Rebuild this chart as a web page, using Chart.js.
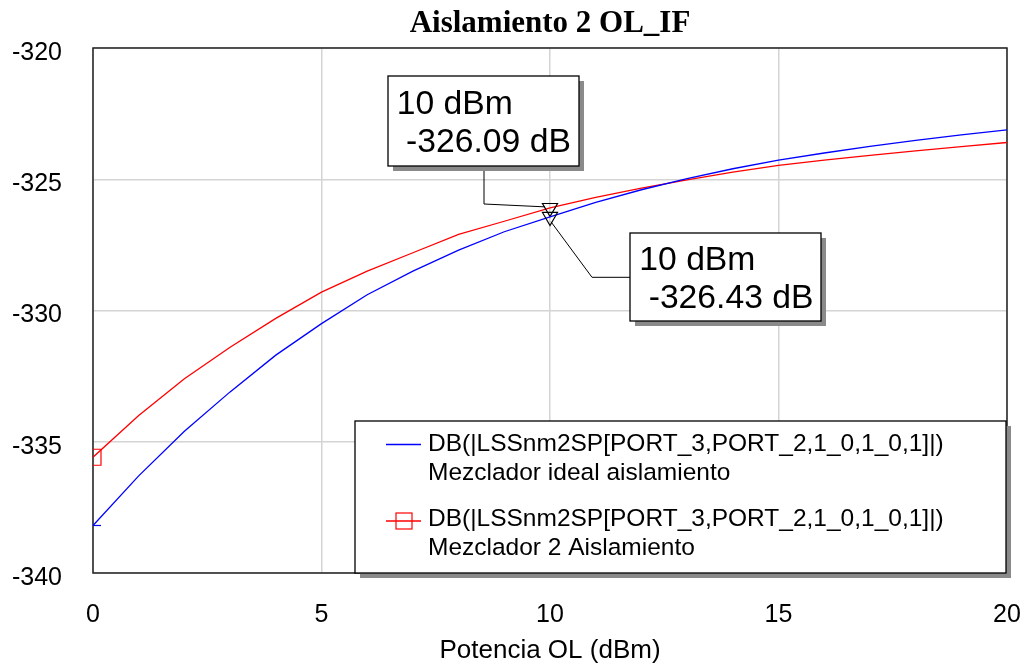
<!DOCTYPE html>
<html>
<head>
<meta charset="utf-8">
<title>Aislamiento 2 OL_IF</title>
<script src="https://cdn.jsdelivr.net/npm/chart.js@4.4.1/dist/chart.umd.min.js"></script>
<style>
    html, body { margin: 0; padding: 0; background: #fff; }
    #isoChart { display: block; }
</style>
</head>
<body>
<canvas id="isoChart" width="1026" height="666"></canvas>
<script>
// OL power sweep (dBm)
const powerOL = [0, 1, 2, 3, 4, 5, 6, 7, 8, 9, 10, 11, 12, 13, 14, 15, 16, 17, 18, 19, 20];
// DB(|LSSnm2SP[PORT_3,PORT_2,1_0,1_0,1]|) for the ideal mixer
const idealIso = [-338.19, -336.3, -334.6, -333.1, -331.7, -330.5, -329.4, -328.5, -327.7, -327.0, -326.43,
    -325.88, -325.40, -324.98, -324.60, -324.27, -324.0, -323.75, -323.52, -323.31, -323.12];
// same measurement for mixer 2
const mixer2Iso = [-335.59, -334.0, -332.6, -331.4, -330.3, -329.3, -328.5, -327.8, -327.1, -326.6, -326.09,
    -325.69, -325.34, -325.02, -324.73, -324.47, -324.27, -324.09, -323.92, -323.76, -323.6];

const xTicks = [0, 5, 10, 15, 20];
const yTicks = [-340, -335, -330, -325, -320];
const seriesNames = [
    ['DB(|LSSnm2SP[PORT_3,PORT_2,1_0,1_0,1]|)', 'Mezclador ideal aislamiento'],
    ['DB(|LSSnm2SP[PORT_3,PORT_2,1_0,1_0,1]|)', 'Mezclador 2 Aislamiento']
];
const markerIndex = 10;

const SANS = '"Liberation Sans", Arial, sans-serif';
const SERIF = '"Liberation Serif", "Times New Roman", serif';

function toPoints(ys) {
    return powerOL.map((x, i) => ({ x: x, y: ys[i] }));
}

// start marker on index 0, inverted triangle marker at the readout point
function pointOpts(startStyle, startRadius, color) {
    return {
        pointStyle: c => c.dataIndex === markerIndex ? 'triangle' : startStyle,
        pointRadius: c => c.dataIndex === markerIndex ? 8.7 : (c.dataIndex === 0 ? startRadius : 0),
        pointRotation: c => c.dataIndex === markerIndex ? 180 : 0,
        pointBorderColor: c => c.dataIndex === markerIndex ? '#000' : color,
        pointBackgroundColor: 'rgba(0,0,0,0)',
        pointBorderWidth: 1.2
    };
}

function box(ctx, x, y, w, h) {
    ctx.fillStyle = '#8a8a8a';
    ctx.fillRect(x + 5, y + 5, w, h);
    ctx.fillStyle = '#fff';
    ctx.fillRect(x, y, w, h);
    ctx.strokeStyle = '#000';
    ctx.lineWidth = 1.3;
    ctx.strokeRect(x, y, w, h);
}

function polyline(ctx, pts) {
    ctx.beginPath();
    ctx.moveTo(pts[0][0], pts[0][1]);
    for (let i = 1; i < pts.length; i++) ctx.lineTo(pts[i][0], pts[i][1]);
    ctx.stroke();
}

const decorations = {
    id: 'decorations',
    beforeDatasetsDraw(chart) {
        const ctx = chart.ctx;
        const a = chart.chartArea;
        ctx.save();
        ctx.strokeStyle = '#222';
        ctx.lineWidth = 1.5;
        ctx.strokeRect(a.left, a.top, a.right - a.left, a.bottom - a.top);
        ctx.restore();
    },
    afterDraw(chart) {
        const ctx = chart.ctx;
        const a = chart.chartArea;
        const xs = chart.scales.x, ys = chart.scales.y;
        ctx.save();

        // title
        ctx.fillStyle = '#000';
        ctx.font = 'bold 31px ' + SERIF;
        ctx.textAlign = 'center';
        ctx.textBaseline = 'alphabetic';
        ctx.fillText('Aislamiento 2 OL_IF', (a.left + a.right) / 2, 32);

        // marker readouts
        const mx = xs.getPixelForValue(powerOL[markerIndex]);
        const redY = ys.getPixelForValue(mixer2Iso[markerIndex]);
        const blueY = ys.getPixelForValue(idealIso[markerIndex]);

        ctx.strokeStyle = '#000';
        ctx.lineWidth = 1;
        polyline(ctx, [[484, 166], [484, 204], [mx - 5, redY - 1]]);
        polyline(ctx, [[mx + 1, blueY + 5], [592, 277.3], [630, 277.3]]);

        ctx.textAlign = 'left';
        ctx.font = '33.7px ' + SANS;
        box(ctx, 388, 76, 191, 90);
        ctx.fillStyle = '#000';
        ctx.fillText(powerOL[markerIndex] + ' dBm', 396.7, 114);
        ctx.fillText(' ' + mixer2Iso[markerIndex].toFixed(2) + ' dB', 396.7, 151.7);

        box(ctx, 630, 233, 191, 88);
        ctx.fillStyle = '#000';
        ctx.fillText(powerOL[markerIndex] + ' dBm', 639.3, 270);
        ctx.fillText(' ' + idealIso[markerIndex].toFixed(2) + ' dB', 639.3, 308.3);

        // legend
        box(ctx, 355, 421, 651, 152);
        const ds = chart.data.datasets;
        ctx.lineWidth = 1.4;
        ctx.strokeStyle = ds[0].borderColor;
        polyline(ctx, [[386, 444.5], [421, 444.5]]);
        ctx.strokeStyle = ds[1].borderColor;
        polyline(ctx, [[386, 521], [421, 521]]);
        ctx.lineWidth = 1.2;
        ctx.strokeRect(396, 513, 16, 16);

        ctx.fillStyle = '#000';
        ctx.font = '24.5px ' + SANS;
        ctx.fillText(seriesNames[0][0], 428, 451);
        ctx.fillText(seriesNames[0][1], 428, 480);
        ctx.fillText(seriesNames[1][0], 428, 526);
        ctx.fillText(seriesNames[1][1], 428, 555);

        ctx.restore();
    }
};

new Chart(document.getElementById('isoChart'), {
    type: 'line',
    data: {
        datasets: [{
            label: seriesNames[0].join(' '),
            data: toPoints(idealIso),
            borderColor: '#0000ff',
            borderWidth: 1.3,
            fill: false,
            tension: 0,
            ...pointOpts('line', 8, '#0000ff')
        }, {
            label: seriesNames[1].join(' '),
            data: toPoints(mixer2Iso),
            borderColor: '#ff0000',
            borderWidth: 1.3,
            fill: false,
            tension: 0,
            ...pointOpts('rect', 11.3, '#ff0000')
        }]
    },
    options: {
        responsive: false,
        animation: false,
        events: [],
        layout: { padding: { left: 0, top: 48, right: 19, bottom: 0 } },
        plugins: {
            legend: { display: false },
            title: { display: false },
            tooltip: { enabled: false }
        },
        scales: {
            x: {
                type: 'linear',
                min: 0,
                max: 20,
                afterFit: s => { s.height = 93; s.paddingLeft = 0; s.paddingRight = 0; },
                afterBuildTicks: s => { s.ticks = xTicks.map(v => ({ value: v })); },
                grid: { color: '#d4d4d4', lineWidth: 1.5, drawTicks: false },
                border: { display: false },
                ticks: { color: '#000', font: { family: SANS, size: 25 }, padding: 27, maxRotation: 0 },
                title: {
                    display: true,
                    text: 'Potencia OL (dBm)',
                    color: '#000',
                    font: { family: SANS, size: 26 },
                    padding: { top: 0, bottom: 0 }
                }
            },
            y: {
                min: -340,
                max: -320,
                afterFit: s => { s.width = 93; s.paddingTop = 0; s.paddingBottom = 0; },
                afterBuildTicks: s => { s.ticks = yTicks.map(v => ({ value: v })); },
                grid: { color: '#d4d4d4', lineWidth: 1.5, drawTicks: false },
                border: { display: false },
                ticks: { color: '#000', font: { family: SANS, size: 25 }, padding: 31, labelOffset: 5 }
            }
        }
    },
    plugins: [decorations]
});
</script>
</body>
</html>
